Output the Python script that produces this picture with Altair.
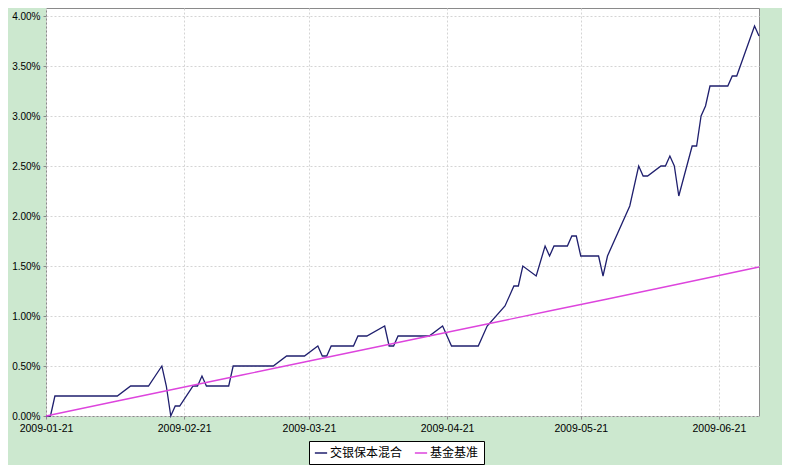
import altair as alt
import pandas as pd

# ---- data (percent) ----
fund_dates = [
    "2009-01-21", "2009-01-22", "2009-01-23", "2009-02-06", "2009-02-09",
    "2009-02-13", "2009-02-16", "2009-02-17", "2009-02-18", "2009-02-19",
    "2009-02-20", "2009-02-23", "2009-02-24", "2009-02-25", "2009-02-26",
    "2009-03-03", "2009-03-04", "2009-03-13", "2009-03-16", "2009-03-20",
    "2009-03-23", "2009-03-24", "2009-03-25", "2009-03-26", "2009-03-31",
    "2009-04-01", "2009-04-03", "2009-04-07", "2009-04-08", "2009-04-09",
    "2009-04-10", "2009-04-17", "2009-04-20", "2009-04-22", "2009-04-28",
    "2009-04-30", "2009-05-04", "2009-05-06", "2009-05-07", "2009-05-08",
    "2009-05-11", "2009-05-13", "2009-05-14", "2009-05-15", "2009-05-18",
    "2009-05-19", "2009-05-20", "2009-05-21", "2009-05-25", "2009-05-26",
    "2009-05-27", "2009-06-01", "2009-06-03", "2009-06-04", "2009-06-05",
    "2009-06-08", "2009-06-09", "2009-06-10", "2009-06-11", "2009-06-12",
    "2009-06-15", "2009-06-16", "2009-06-17", "2009-06-18", "2009-06-19",
    "2009-06-23", "2009-06-24", "2009-06-25", "2009-06-29", "2009-06-30",
]
fund_values = [
    0.0, 0.0, 0.2, 0.2, 0.3,
    0.3, 0.5, 0.3, 0.0, 0.1,
    0.1, 0.3, 0.3, 0.4, 0.3,
    0.3, 0.5, 0.5, 0.6, 0.6,
    0.7, 0.6, 0.6, 0.7, 0.7,
    0.8, 0.8, 0.9, 0.7, 0.7,
    0.8, 0.8, 0.9, 0.7, 0.7,
    0.9, 1.1, 1.3, 1.3, 1.5,
    1.4, 1.7, 1.6, 1.7, 1.7,
    1.8, 1.8, 1.6, 1.6, 1.4,
    1.6, 2.1, 2.5, 2.4, 2.4,
    2.5, 2.5, 2.6, 2.5, 2.2,
    2.7, 2.7, 3.0, 3.1, 3.3,
    3.3, 3.4, 3.4, 3.9, 3.8,
]
bench_dates = [
    "2009-01-21", "2009-02-06", "2009-02-20", "2009-03-06", "2009-03-20",
    "2009-04-03", "2009-04-17", "2009-04-30", "2009-05-15", "2009-05-27",
    "2009-06-12", "2009-06-30",
]
bench_values = [
    0.00, 0.15, 0.28, 0.41, 0.54,
    0.67, 0.80, 0.92, 1.06, 1.17,
    1.32, 1.49,
]
series_names = ["交银保本混合", "基金基准"]
series_colors = ["#1F1F6E", "#DD44DD"]
y_ticks = [0.0, 0.5, 1.0, 1.5, 2.0, 2.5, 3.0, 3.5, 4.0]
x_ticks = ["2009-01-21", "2009-02-21", "2009-03-21", "2009-04-21",
           "2009-05-21", "2009-06-21"]
x_start = "2009-01-21"
x_end = "2009-06-30"
y_max = 4.08

# ---- build table ----
df = pd.concat([
    pd.DataFrame({"date": fund_dates, "value": fund_values, "series": series_names[0]}),
    pd.DataFrame({"date": bench_dates, "value": bench_values, "series": series_names[1]}),
], ignore_index=True)
df["ret"] = df["value"] / 100.0


def dt(s):
    y, m, d = (int(p) for p in s.split("-"))
    return alt.DateTime(year=y, month=m, date=d, utc=True)


chart = (
    alt.Chart(df)
    .mark_line(strokeWidth=1.3)
    .encode(
        x=alt.X(
            "date:T",
            scale=alt.Scale(type="utc", domain=[dt(x_start), dt(x_end)]),
            axis=alt.Axis(
                values=[dt(s) for s in x_ticks],
                labelExpr="utcFormat(datum.value, '%Y-%m-%d')",
                title=None,
                labelPadding=4,
                labelOverlap=False,
                labelBound=False,
                labelFlush=False,
            ),
        ),
        y=alt.Y(
            "ret:Q",
            scale=alt.Scale(domain=[0, y_max / 100.0], nice=False, zero=True),
            axis=alt.Axis(
                values=[v / 100.0 for v in y_ticks],
                format=".2%",
                title=None,
                labelPadding=3,
                labelFontSize=10,
            ),
        ),
        color=alt.Color(
            "series:N",
            scale=alt.Scale(domain=series_names, range=series_colors),
            legend=alt.Legend(
                orient="none",
                legendX=263,
                legendY=433,
                direction="horizontal",
                title=None,
                strokeColor="black",
                fillColor="white",
                padding=5,
                symbolType="stroke",
                symbolStrokeWidth=1.5,
                symbolSize=150,
                labelFont="Noto Sans CJK SC",
                labelFontSize=12,
                labelColor="black",
                columnPadding=8,
                labelOffset=2,
                cornerRadius=0,
            ),
        ),
        detail="series:N",
    )
    .properties(
        width=713,
        height=408,
        autosize=alt.AutoSizeParams(type="none"),
        padding={"left": 38, "top": 0, "right": 23, "bottom": 49},
        background="#CCE8CF",
    )
    .configure_view(fill="white", stroke="#8a8a8a", strokeWidth=1)
    .configure_axis(
        grid=True,
        gridColor="#d4d4d4",
        gridDash=[2, 2],
        gridWidth=1,
        domain=False,
        tickColor="#8a8a8a",
        tickSize=3,
        labelFont="Liberation Sans",
        labelFontSize=10.5,
        labelColor="black",
    )
)

chart.save("out.html", embed_options={"renderer": "svg", "actions": False})
